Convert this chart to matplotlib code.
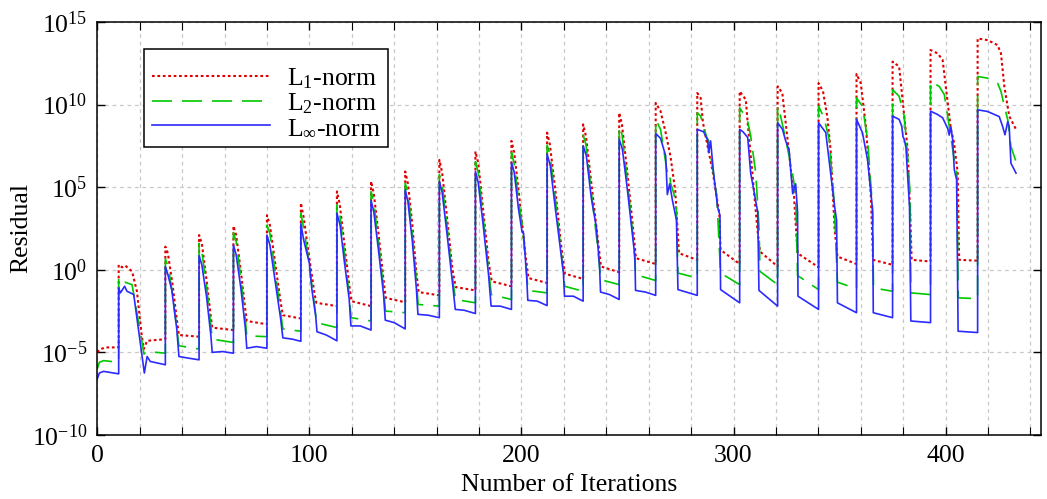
import numpy as np
import matplotlib
matplotlib.use("Agg")
import matplotlib.pyplot as plt
from matplotlib.ticker import FixedLocator, MultipleLocator, NullLocator

plt.rcParams['font.family'] = 'serif'
plt.rcParams['font.serif'] = ['Liberation Serif', 'DejaVu Serif']
plt.rcParams['mathtext.fontset'] = 'custom'
plt.rcParams['mathtext.rm'] = 'Liberation Serif'
plt.rcParams['mathtext.it'] = 'Liberation Serif:italic'

# (iteration, log10 residual) vertices, one row per cycle
l1_pts = [
    (0, -5.0), (1.5, -4.8), (4, -4.7), (10.1, -4.7),
    (10.1, 0.3), (11.7, 0.15), (13.2, 0.25), (16.4, -0.1), (18.7, -1.3), (20.8, -3.8), (21.9, -4.8), (23.5, -4.3), (32.1, -4.2),
    (32.1, 1.4), (33.3, 1.0), (35.5, -0.9), (37.5, -3.0), (38.5, -3.95), (48.0, -4.05),
    (48.0, 2.1), (49.3, 1.6), (51.5, -0.6), (53.5, -2.8), (54.2, -3.5), (64.2, -3.65),
    (64.2, 2.65), (65.5, 2.1), (67.7, -0.1), (69.8, -2.4), (70.5, -3.1), (80.0, -3.3),
    (80.0, 3.3), (81.4, 2.7), (84.0, 0.3), (86.5, -2.0), (87.5, -2.75), (96.0, -2.95),
    (96.0, 4.04), (97.3, 3.2), (99.0, 1.6), (100.8, 0.0), (102.5, -1.5), (103.3, -2.0), (113.0, -2.2),
    (113.0, 4.74), (114.3, 4.0), (116.3, 1.8), (118.5, -0.6), (119.8, -1.9), (129.1, -2.2),
    (129.1, 5.35), (130.4, 4.6), (132.5, 2.3), (134.8, -0.4), (136.0, -1.7), (145.2, -1.97),
    (145.2, 5.95), (146.5, 5.2), (148.5, 2.8), (150.5, -0.2), (151.5, -1.35), (161.3, -1.55),
    (161.3, 6.65), (162.6, 5.9), (164.8, 3.3), (167.5, 0.0), (169.0, -1.05), (178.3, -1.25),
    (178.3, 7.16), (179.6, 6.5), (181.8, 3.8), (184.5, 0.5), (186.0, -0.7), (195.3, -1.0),
    (195.3, 7.8), (196.6, 7.1), (199.0, 4.4), (201.8, 1.0), (203.3, -0.5), (212.1, -0.8),
    (212.1, 8.3), (213.4, 7.6), (216.0, 4.8), (218.8, 1.4), (220.5, -0.24), (229.1, -0.55),
    (229.1, 8.8), (230.4, 8.1), (233.0, 5.2), (236.0, 1.8), (237.5, 0.2), (246.1, -0.15),
    (246.1, 9.5), (247.4, 8.8), (250.0, 5.8), (252.8, 2.3), (254.0, 0.7), (263.3, 0.35),
    (263.3, 10.1), (265.6, 9.6), (268.0, 8.3), (270.3, 6.85), (272.5, 4.8), (274.3, 1.0), (282.9, 0.6),
    (282.9, 10.7), (284.5, 10.4), (285.6, 8.9), (290.3, 5.85), (293.3, 3.4), (293.9, 1.2), (302.9, 0.35),
    (302.9, 10.8), (305.8, 10.3), (306.8, 8.7), (308.9, 5.85), (311.3, 2.4), (312.5, 1.1), (320.8, 0.2),
    (320.8, 11.1), (323.0, 10.7), (324.6, 8.9), (327.0, 6.1), (328.5, 4.5), (330.2, 1.0), (340.1, 0.15),
    (340.1, 11.3), (342.2, 10.8), (344.3, 9.2), (345.8, 7.2), (347.7, 2.4), (349.0, 0.8), (358.0, 0.35),
    (358.0, 11.85), (360.0, 11.3), (362.4, 8.7), (364.7, 4.65), (365.8, 0.6), (375.0, 0.3),
    (375.0, 12.6), (378.1, 12.3), (379.7, 10.3), (382.1, 7.3), (383.3, 3.4), (384.0, 0.6), (392.9, 0.5),
    (392.9, 13.3), (396.2, 13.1), (398.6, 12.7), (400.1, 11.1), (402.5, 8.5), (404.0, 7.7), (405.7, 5.85), (406.4, 0.6), (415.1, 0.55),
    (415.1, 14.0), (419.8, 13.9), (424.5, 13.6), (426.1, 13.1), (427.7, 11.1), (430.0, 9.3), (433.2, 8.5),
]

l2_pts = [
    (0, -6.0), (1, -5.6), (3, -5.5), (10.1, -5.6),
    (10.1, -0.5), (11.3, -0.8), (13.0, -0.75), (16.4, -0.9), (21.4, -4.6), (22.0, -5.1), (23.5, -4.95), (32.1, -5.05),
    (32.1, 0.65), (33.5, 0.2), (35.5, -1.5), (37.5, -3.6), (38.5, -4.6), (48.0, -4.8),
    (48.0, 1.6), (49.3, 1.1), (51.5, -1.0), (53.5, -3.3), (54.2, -4.2), (64.2, -4.4),
    (64.2, 2.25), (65.5, 1.7), (67.7, -0.5), (69.8, -3.0), (70.5, -4.0), (80.0, -4.05),
    (80.0, 2.7), (81.4, 2.2), (84.0, -0.2), (86.5, -2.6), (87.5, -3.58), (96.0, -3.72),
    (96.0, 3.43), (97.3, 2.5), (99.0, 1.2), (100.8, -0.6), (102.5, -2.2), (103.4, -3.2), (113.0, -3.5),
    (113.0, 3.93), (114.3, 3.4), (116.3, 1.3), (118.5, -1.2), (119.7, -2.9), (129.1, -3.1),
    (129.1, 4.74), (130.4, 4.1), (132.5, 1.8), (134.8, -0.9), (135.9, -2.5), (145.2, -2.6),
    (145.2, 5.25), (146.5, 4.6), (148.5, 2.3), (150.5, -0.7), (151.3, -2.1), (161.3, -2.2),
    (161.3, 5.75), (162.6, 5.2), (164.8, 2.8), (167.5, -0.5), (168.9, -1.8), (178.3, -2.0),
    (178.3, 6.55), (179.6, 5.9), (181.8, 3.4), (184.5, 0.0), (185.8, -1.5), (195.3, -1.8),
    (195.3, 7.1), (196.6, 6.4), (199.0, 3.9), (200.3, 2.8), (201.8, 0.8), (203.1, -1.25), (212.1, -1.4),
    (212.1, 7.55), (213.4, 7.0), (216.0, 4.3), (218.8, 1.0), (220.4, -1.0), (229.1, -1.3),
    (229.1, 8.15), (230.4, 7.6), (233.0, 4.7), (236.0, 1.3), (237.4, -0.6), (246.1, -0.9),
    (246.1, 8.7), (247.4, 8.2), (250.0, 5.3), (252.8, 1.8), (253.9, -0.3), (263.3, -0.65),
    (263.3, 9.1), (265.6, 8.5), (268.8, 5.85), (269.9, 5.95), (270.3, 5.25), (271.9, 4.6), (273.1, 3.6), (273.8, -0.2), (282.9, -0.5),
    (282.9, 9.5), (284.5, 9.3), (287.3, 8.05), (288.3, 7.8), (292.1, 4.45), (293.9, -0.2), (302.9, -0.9),
    (302.9, 9.8), (306.5, 9.1), (308.1, 8.1), (310.5, 5.85), (312.0, 2.6), (312.5, -0.1), (320.8, -0.9),
    (320.8, 9.9), (322.2, 9.3), (324.6, 7.9), (327.8, 5.85), (328.5, 5.25), (329.3, 4.6), (330.2, -0.35), (340.1, -1.2),
    (340.1, 9.9), (342.7, 9.2), (345.1, 7.9), (347.4, 4.2), (349.0, -0.75), (358.0, -1.15),
    (358.0, 10.4), (360.8, 9.9), (363.2, 7.9), (365.5, 3.8), (366.0, -1.1), (375.0, -1.3),
    (375.0, 10.9), (378.1, 10.5), (380.5, 9.3), (382.1, 6.9), (383.3, 4.5), (383.6, -1.4), (392.9, -1.5),
    (392.9, 11.4), (397.0, 11.1), (399.4, 10.6), (401.7, 8.7), (404.1, 6.65), (405.3, 5.85), (406.0, -1.7), (415.1, -1.75),
    (415.1, 11.7), (419.8, 11.6), (424.5, 11.3), (426.1, 10.8), (427.7, 9.9), (429.3, 9.08), (430.8, 7.46), (433.2, 6.55),
]

linf_pts = [
    (0, -6.6), (1, -6.25), (3, -6.15), (10.1, -6.3),
    (10.1, -1.1), (10.9, -1.4), (12.9, -1.0), (14.0, -1.3), (17.2, -1.5), (22.2, -6.25), (23.5, -5.25), (25.0, -5.55), (32.1, -5.75),
    (32.1, 0.2), (33.3, -0.3), (35.1, -1.2), (37.5, -3.6), (38.5, -5.25), (43.0, -5.35), (48.0, -5.45),
    (48.0, 0.85), (49.3, 0.3), (51.5, -1.6), (53.5, -3.9), (54.2, -5.0), (59.0, -4.95), (64.2, -5.05),
    (64.2, 1.5), (65.5, 0.9), (67.7, -1.1), (69.8, -3.5), (70.5, -4.75), (75.0, -4.65), (80.0, -4.75),
    (80.0, 2.1), (81.4, 1.5), (84.0, -0.8), (86.5, -3.0), (87.5, -4.12), (92.0, -4.2), (96.0, -4.33),
    (96.0, 2.79), (97.3, 1.82), (100.0, 0.4), (101.2, -1.2), (103.0, -2.8), (103.6, -3.75), (108.0, -3.95), (113.0, -4.3),
    (113.0, 3.43), (114.5, 2.7), (116.5, 0.5), (118.8, -1.8), (119.6, -3.4), (124.0, -3.4), (129.1, -3.65),
    (129.1, 4.2), (130.4, 3.5), (132.5, 1.3), (135.0, -1.5), (135.8, -3.05), (140.0, -3.2), (145.2, -3.58),
    (145.2, 4.85), (146.5, 4.1), (148.5, 1.8), (150.5, -1.2), (151.2, -2.7), (156.0, -2.75), (161.3, -2.9),
    (161.3, 5.35), (162.6, 4.7), (164.8, 2.3), (167.5, -0.8), (168.8, -2.4), (173.0, -2.45), (178.3, -2.65),
    (178.3, 5.95), (179.6, 5.3), (181.8, 2.9), (184.5, -0.3), (185.7, -2.2), (190.0, -2.2), (195.3, -2.4),
    (195.3, 6.5), (196.6, 5.9), (198.6, 3.7), (200.3, 2.3), (201.0, 2.2), (202.5, -0.5), (203.0, -1.85), (207.5, -1.9), (212.1, -2.17),
    (212.1, 7.0), (213.6, 6.3), (216.0, 3.7), (218.8, 0.8), (219.8, -0.2), (220.3, -1.6), (224.5, -1.6), (229.1, -1.9),
    (229.1, 7.5), (230.6, 6.9), (233.0, 4.3), (234.5, 3.2), (235.3, 2.6), (236.8, 0.3), (237.3, -1.35), (241.5, -1.5), (246.1, -1.8),
    (246.1, 7.9), (247.6, 7.3), (250.0, 4.8), (252.8, 1.6), (253.5, 0.8), (253.8, -1.25), (258.5, -1.35), (263.3, -1.55),
    (263.3, 8.25), (265.6, 7.95), (268.0, 6.9), (268.8, 4.55), (269.9, 5.2), (271.2, 4.2), (273.1, 3.0), (273.8, -1.2), (282.9, -1.55),
    (282.9, 8.5), (285.9, 8.35), (287.8, 7.85), (288.3, 7.1), (289.2, 7.8), (290.6, 5.85), (292.5, 3.8), (293.6, 3.3), (293.9, -1.2), (302.9, -2.0),
    (302.9, 8.5), (304.5, 8.35), (306.7, 8.0), (308.1, 5.85), (311.4, 3.5), (312.0, -1.25), (320.8, -2.2),
    (320.8, 8.9), (323.1, 8.5), (324.6, 7.8), (326.2, 7.25), (327.9, 4.6), (329.3, 5.2), (329.8, 4.3), (330.2, 3.5), (330.4, -1.6), (340.1, -2.4),
    (340.1, 8.9), (343.5, 8.3), (345.8, 5.85), (347.7, 3.8), (348.6, 3.0), (349.0, -2.0), (358.0, -2.6),
    (358.0, 9.1), (360.8, 8.3), (363.2, 6.65), (365.1, 4.25), (365.6, 3.5), (365.9, -2.6), (375.0, -2.9),
    (375.0, 9.3), (378.1, 9.1), (379.3, 8.7), (379.9, 8.05), (380.5, 7.9), (381.3, 7.4), (382.1, 5.7), (383.0, 3.8), (383.6, -3.1), (392.9, -3.2),
    (392.9, 9.6), (396.2, 9.4), (398.6, 9.2), (401.0, 8.55), (401.7, 8.15), (402.5, 8.65), (403.3, 7.9), (404.1, 6.05), (405.2, 5.45), (405.9, -3.72), (415.1, -3.8),
    (415.1, 9.68), (419.8, 9.58), (425.3, 9.27), (426.9, 8.67), (428.0, 8.17), (429.3, 8.97), (430.0, 8.67), (430.8, 6.45), (433.2, 5.85),
]

labels = [r'L$_\mathrm{1}$-norm', r'L$_\mathrm{2}$-norm', r'L$_\infty$-norm']
colors = ['#e00000', '#00c800', '#2b2bff']
styles = [(0, (1.3, 1.3)), (0, (12, 6)), '-']
widths = [1.5, 1.2, 1.2]
y_ticks = [1e-10, 1e-5, 1e0, 1e5, 1e10, 1e15]

fig = plt.figure(figsize=(10.47, 4.99), dpi=100)
ax = fig.add_axes([0.0929, 0.1283, 0.9014, 0.8277])

for pts, lab, col, ls, lw in zip([l1_pts, l2_pts, linf_pts], labels, colors, styles, widths):
    arr = np.array(pts)
    ax.semilogy(arr[:, 0], 10.0 ** arr[:, 1], color=col, linestyle=ls, linewidth=lw, label=lab)

ax.set_xlim(0, 445)
ax.set_ylim(1e-10, 1e15)
ax.xaxis.set_major_locator(MultipleLocator(100))
ax.xaxis.set_minor_locator(MultipleLocator(20))
ax.yaxis.set_major_locator(FixedLocator(y_ticks))
ax.yaxis.set_minor_locator(NullLocator())

ax.grid(True, which='both', axis='x', color='#c8c8c8', linestyle=(0, (3, 3)), linewidth=0.9)
ax.grid(True, which='major', axis='y', color='#c8c8c8', linestyle=(0, (3, 3)), linewidth=0.9)
ax.set_axisbelow(True)

fs = 18.5
ax.tick_params(which='both', direction='in', top=True, right=True, labelsize=fs, pad=7)
ax.tick_params(which='major', length=6, width=1)
ax.tick_params(which='minor', length=6, width=0.8)
for sp in ax.spines.values():
    sp.set_linewidth(1.1)

ax.set_xlabel('Number of Iterations', fontsize=fs, labelpad=5)
ax.set_ylabel('Residual', fontsize=fs, labelpad=0)

leg = ax.legend(loc='upper left', bbox_to_anchor=(144 / 1047, 1 - 49 / 499), bbox_transform=fig.transFigure,
                borderaxespad=0, fontsize=fs, handlelength=4.6, handletextpad=0.65, labelspacing=0.02,
                borderpad=0.3, fancybox=False, framealpha=1, edgecolor='black',
                title=' ', title_fontsize=7)
leg.get_frame().set_linewidth(1.1)

fig.savefig('out.png', dpi=100)
